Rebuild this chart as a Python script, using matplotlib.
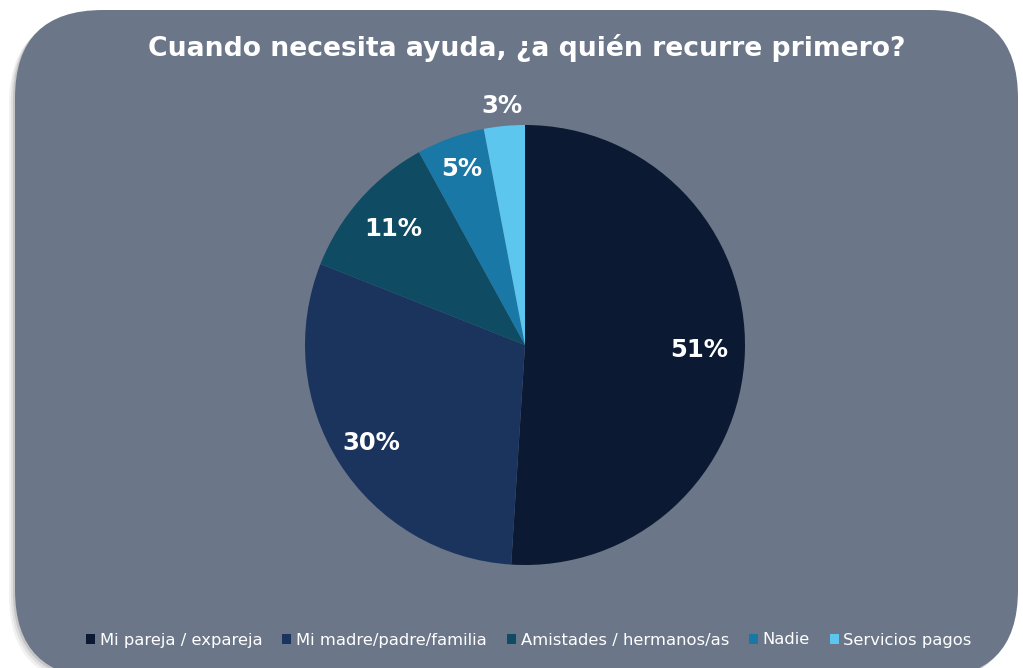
import matplotlib.pyplot as plt
import numpy as np
from matplotlib.patches import FancyBboxPatch, Patch

# data
categories = ['Mi pareja / expareja', 'Mi madre/padre/familia', 'Amistades / hermanos/as',
              'Nadie', 'Servicios pagos']
values = [51, 30, 11, 5, 3]
colors = ['#0b1a32', '#1b345e', '#0f4b63', '#1a78a6', '#5cc6ef']
label_r = [0.79, 0.83, 0.80, 0.85, 1.09]

W, H = 1023, 668
fig = plt.figure(figsize=(W / 100, H / 100), dpi=100)
fig.patch.set_facecolor('white')
ax = fig.add_axes([0, 0, 1, 1])

cx, cy, R = 525, H - 345, 220
wedges, _ = ax.pie(values, colors=colors, startangle=90, counterclock=False,
                   center=(cx, cy), radius=R, wedgeprops=dict(linewidth=0))
for w in wedges:
    w.set_zorder(2)

ax.set_xlim(0, W)
ax.set_ylim(0, H)
ax.set_aspect('equal')
ax.axis('off')

# background card with soft shadow
for off, a in [(6, 0.10), (4, 0.15), (2, 0.25)]:
    sh = FancyBboxPatch((15 - off, -10 - off), 1003, 668, boxstyle='round,pad=0,rounding_size=88',
                        fc='#7a7a7a', ec='none', alpha=a, zorder=0)
    ax.add_patch(sh)
card = FancyBboxPatch((15, -10), 1003, 668, boxstyle='round,pad=0,rounding_size=88',
                      fc='#6b7789', ec='none', zorder=1)
ax.add_patch(card)

for w, v, r in zip(wedges, values, label_r):
    ang = np.deg2rad((w.theta1 + w.theta2) / 2)
    x = cx + r * R * np.cos(ang)
    y = cy + r * R * np.sin(ang)
    ax.text(x, y, f'{v}%', ha='center', va='center', color='white',
            fontsize=17.5, fontweight='bold', zorder=3)

ax.text(527, H - 48, 'Cuando necesita ayuda, ¿a quién recurre primero?', ha='center', va='center',
        color='white', fontsize=19.2, fontweight='bold', zorder=3)

handles = [Patch(facecolor=c, edgecolor='none') for c in colors]
leg = ax.legend(handles, categories, loc='center', bbox_to_anchor=(529 / W, (H - 640) / H),
                ncol=5, frameon=False, fontsize=11.8, handlelength=0.55, handleheight=0.6,
                handletextpad=0.3, columnspacing=1.2, labelcolor='white')
leg.set_zorder(3)

fig.savefig('out.png', dpi=100, facecolor='white')
